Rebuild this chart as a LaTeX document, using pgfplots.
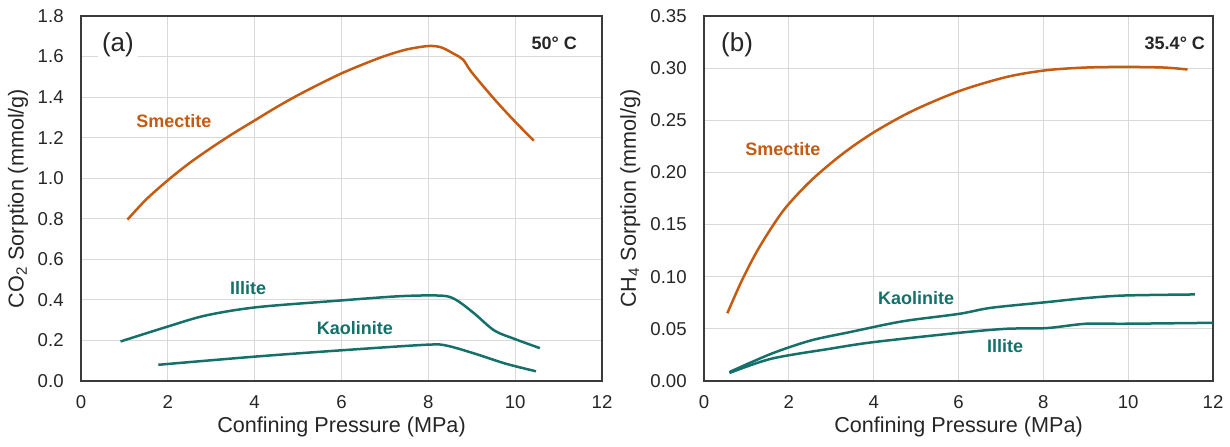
\documentclass[border=0pt]{standalone}
\usepackage{pgfplots}
\pgfplotsset{compat=1.18}
\usepackage{fontspec}
\setmainfont{Liberation Sans}
\definecolor{smect}{HTML}{C55A11}
\definecolor{teal2}{HTML}{16706A}
\definecolor{gridc}{HTML}{D9D9D9}
\definecolor{axc}{HTML}{3A3A3A}
\tikzset{lab/.style={font=\bfseries\fontsize{9}{11}\selectfont}}
\begin{document}
\begin{tikzpicture}
\useasboundingbox (0pt,-32.5pt) rectangle (615pt,190.5pt);
\pgfplotsset{
  panel/.style={
    scale only axis, height=182.5pt,
    xmin=0, xmax=12, xtick={0,2,...,12},
    ymin=0,
    grid=major, major grid style={gridc, line width=0.6pt},
    axis line style={axc, line width=1pt},
    major tick length=0pt,
    /pgf/number format/assume math mode=true,
    tick label style={font=\fontsize{9.3}{11}\selectfont, text=black!85},
    xticklabel style={anchor=north, inner sep=0pt, yshift=-7pt},
    yticklabel style={anchor=east, inner sep=0pt, xshift=-8.5pt},
    label style={font=\fontsize{10.8}{13}\selectfont, text=black!85},
    xlabel style={at={(axis description cs:0.5,0)}, anchor=north, inner sep=0pt, yshift=-17.5pt},
    every axis plot/.append style={line width=1.25pt, smooth, tension=0.5},
    clip=false,
  },
}
% ---------- (a) ----------
\begin{axis}[panel, at={(40.5pt,0pt)}, anchor=south west, width=260.5pt,
  ymax=1.8, ytick={0,0.2,...,1.8},
  yticklabel style={/pgf/number format/.cd, fixed, fixed zerofill, precision=1},
  xlabel={Confining Pressure (MPa)},
  ylabel={CO\textsubscript{2} Sorption (mmol/g)},
  ylabel style={at={(axis description cs:-0.121,0.5)}, anchor=center},
]
\addplot[smect] coordinates {
(1.07,0.796) (1.5,0.895) (2.0,0.99) (2.5,1.075) (3.0,1.15) (3.5,1.22) (4.0,1.285)
(4.5,1.35) (5.0,1.41) (5.5,1.465) (6.0,1.517) (6.5,1.562) (7.0,1.603) (7.5,1.635)
(8.0,1.652) (8.3,1.645) (8.6,1.612) (8.8,1.585) (9.0,1.522) (9.52,1.39) (9.98,1.283) (10.43,1.185)};
\addplot[teal2] coordinates {
(0.91,0.195) (1.96,0.266) (2.87,0.323) (4.05,0.364) (5.97,0.397) (7.24,0.417)
(7.97,0.422) (8.43,0.418) (8.7,0.392) (9.07,0.331) (9.52,0.249) (9.98,0.208) (10.57,0.162)};
\addplot[teal2] coordinates {
(1.78,0.080) (4.05,0.121) (5.97,0.151) (7.97,0.179) (8.43,0.174) (9.07,0.135)
(9.79,0.085) (10.48,0.048)};
\node[font=\fontsize{13}{15}\selectfont, fill=white, inner sep=2pt, text=black!85] at (axis cs:0.85,1.657) {(a)};
\node[lab, text=black!85] at (axis cs:10.9,1.667) {50° C};
\node[lab, text=smect] at (axis cs:2.14,1.282) {Smectite};
\node[lab, text=teal2] at (axis cs:3.85,0.459) {Illite};
\node[lab, text=teal2] at (axis cs:6.31,0.261) {Kaolinite};
\end{axis}
% ---------- (b) ----------
\begin{axis}[panel, at={(352pt,0pt)}, anchor=south west, width=254.5pt,
  ymax=0.35, ytick={0,0.05,...,0.35},
  yticklabel style={/pgf/number format/.cd, fixed, fixed zerofill, precision=2},
  xlabel={Confining Pressure (MPa)},
  ylabel={CH\textsubscript{4} Sorption (mmol/g)},
  ylabel style={at={(axis description cs:-0.145,0.5)}, anchor=center},
]
\addplot[smect] coordinates {
(0.55,0.065) (0.9,0.097) (1.3,0.128) (1.87,0.1634) (2.52,0.1921) (3.26,0.2176)
(4.0,0.2384) (4.92,0.2591) (6.03,0.2782) (7.14,0.2916) (8.07,0.298) (9.0,0.3006)
(9.92,0.3012) (10.84,0.3006) (11.4,0.2987)};
\addplot[teal2] coordinates {
(0.6,0.0086) (1.59,0.0262) (2.52,0.0389) (3.44,0.0469) (4.37,0.0549) (4.92,0.0587)
(6.03,0.0645) (6.77,0.0702) (8.07,0.0756) (9.0,0.0795) (9.92,0.082) (11.57,0.083)};
\addplot[teal2] coordinates {
(0.6,0.0077) (1.59,0.0214) (2.98,0.031) (4.0,0.0373) (6.03,0.0463) (7.14,0.0501)
(8.07,0.0507) (9.0,0.0549) (9.92,0.0549) (12.0,0.0558)};
\node[font=\fontsize{13}{15}\selectfont, fill=white, inner sep=2pt, text=black!85] at (axis cs:0.78,0.322) {(b)};
\node[lab, text=black!85] at (axis cs:11.1,0.324) {35.4° C};
\node[lab, text=smect] at (axis cs:1.86,0.2225) {Smectite};
\node[lab, text=teal2] at (axis cs:5.0,0.0796) {Kaolinite};
\node[lab, text=teal2] at (axis cs:7.1,0.0336) {Illite};
\end{axis}
\end{tikzpicture}
\end{document}
